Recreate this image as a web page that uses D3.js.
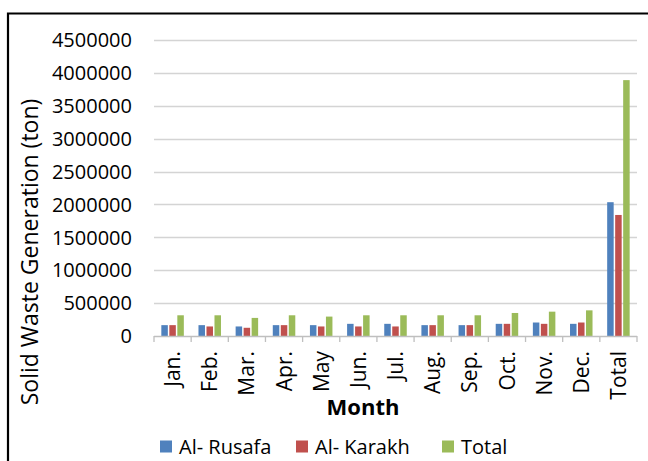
<!DOCTYPE html>
<html><head><meta charset="utf-8">
<script src="https://cdn.jsdelivr.net/npm/d3@7/dist/d3.min.js"></script>
<style>body{margin:0;background:#fff}svg{display:block}text{font-family:"Open Sans",sans-serif;fill:#000}</style>
</head><body>
<script>
const months = ["Jan.","Feb.","Mar.","Apr.","May","Jun.","Jul.","Aug.","Sep.","Oct.","Nov.","Dec.","Total"];
const seriesNames = ["Al- Rusafa","Al- Karakh","Total"];
const rusafa = [165000,165000,145000,165000,165000,185000,185000,165000,165000,185000,205000,185000,2034000];
const karakh = [165000,145000,125000,165000,145000,145000,145000,165000,165000,185000,185000,205000,1840000];
const totalV = [315000,315000,275000,315000,295000,315000,315000,315000,315000,350000,370000,390000,3890000];
const yTicks = [0,500000,1000000,1500000,2000000,2500000,3000000,3500000,4000000,4500000];
const colors = ["#4F81BD","#C0504D","#9BBB59"];

const W=648,H=461;
const svg=d3.select("body").append("svg").attr("width",W).attr("height",H);
// frame
svg.append("path").attr("d","M8,470 L8,13.5 L660,13.5").attr("fill","none").attr("stroke","#000").attr("stroke-width",2.2);

const x=d3.scaleBand().domain(months).range([154,637]).paddingInner(0).paddingOuter(0);
const y=d3.scaleLinear().domain([0,4500000]).range([336,40]);

// gridlines
svg.append("g").selectAll("line").data(yTicks.filter(d=>d>0)).join("line")
  .attr("x1",154).attr("x2",637).attr("y1",d=>Math.round(y(d))+0.5).attr("y2",d=>Math.round(y(d))+0.5)
  .attr("stroke","#d4d4d4").attr("stroke-width",1.3);

// y labels
svg.append("g").selectAll("text").data(yTicks).join("text")
  .attr("x",132).attr("y",d=>y(d)).attr("dy","0.36em").attr("text-anchor","end")
  .style("font-size","20px").text(d=>d);

// bars
const data=[rusafa,karakh,totalV];
const off=[-8,0,8], bw=6.5;
data.forEach((arr,si)=>{
  svg.append("g").selectAll("rect").data(arr).join("rect")
    .attr("x",(d,i)=>x(months[i])+x.bandwidth()/2+off[si]-bw/2)
    .attr("y",d=>y(d)).attr("width",bw).attr("height",d=>y(0)-y(d))
    .attr("fill",colors[si]);
});

// x axis
const xa=svg.append("g");
xa.append("line").attr("x1",154).attr("x2",637).attr("y1",336.5).attr("y2",336.5).attr("stroke","#bfbfbf").attr("stroke-width",1.3);
const bounds=months.map(m=>x(m)).concat([637]);
xa.selectAll("line.t").data(bounds).join("line").attr("class","t")
  .attr("x1",d=>d).attr("x2",d=>d).attr("y1",336).attr("y2",342).attr("stroke","#bfbfbf").attr("stroke-width",1.3);
xa.selectAll("text").data(months).join("text")
  .attr("transform",d=>`translate(${x(d)+x.bandwidth()/2},351) rotate(-90)`)
  .attr("dy","0.36em").attr("text-anchor","end").style("font-size","21px").text(d=>d);

// axis titles
svg.append("text").attr("transform","translate(30,252) rotate(-90)").attr("dy","0.36em")
  .attr("text-anchor","middle").style("font-size","23px").text("Solid Waste Generation (ton)");
svg.append("text").attr("x",363).attr("y",415).attr("text-anchor","middle")
  .style("font-size","22px").style("font-weight","bold").text("Month");

// legend
const lx=[160,296,442];
seriesNames.forEach((n,i)=>{
  svg.append("rect").attr("x",lx[i]).attr("y",440.5).attr("width",12).attr("height",12).attr("fill",colors[i]);
  svg.append("text").attr("x",lx[i]+19).attr("y",446.5).attr("dy","0.36em").style("font-size","20px").text(n);
});
</script>
</body></html>
